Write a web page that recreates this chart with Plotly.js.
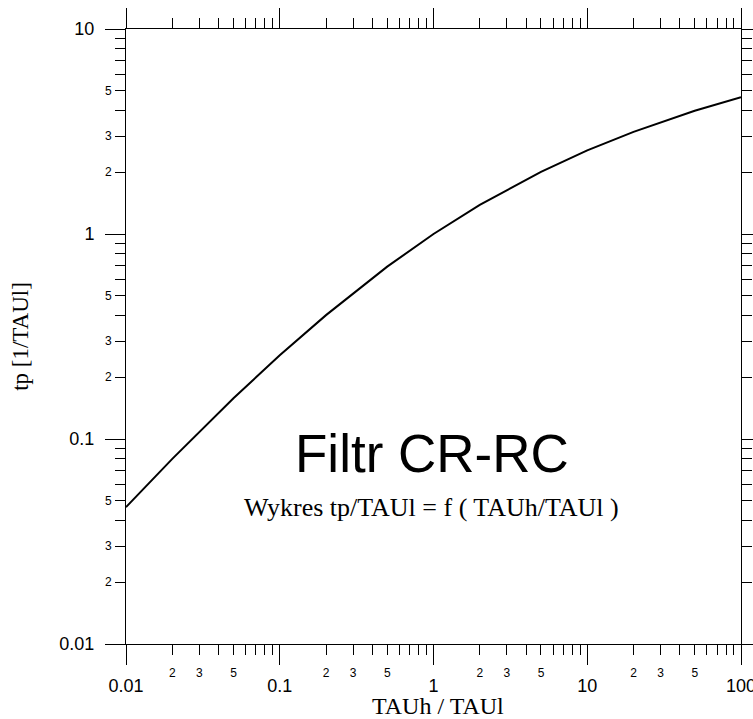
<!DOCTYPE html>
<html>
<head>
<meta charset="utf-8">
<script src="https://cdn.plot.ly/plotly-3.0.1.min.js"></script>
<style>html,body{margin:0;padding:0;background:#fff;}#chart{width:753px;height:719px;}</style>
</head>
<body>
<div id="chart"></div>
<script>
// Data
const ratio = [0.01, 0.02, 0.05, 0.1, 0.2, 0.5, 1, 2, 5, 10, 20, 50, 100];
const tp = [0.0465, 0.080, 0.158, 0.256, 0.402, 0.693, 1.0, 1.386, 2.01, 2.56, 3.15, 3.99, 4.65];

const majorX = [0.01, 0.1, 1, 10, 100];
const majorXText = ['0.01', '0.1', '1', '10', '100'];
const majorY = [0.01, 0.1, 1, 10];
const majorYText = ['0.01', '0.1', '1', '10'];

const labeledMinorX = [0.02, 0.03, 0.05, 0.2, 0.3, 0.5, 2, 3, 5, 20, 30, 50];
const labeledMinorXText = ['2', '3', '5', '2', '3', '5', '2', '3', '5', '2', '3', '5'];
const labeledMinorY = [0.02, 0.03, 0.05, 0.2, 0.3, 0.5, 2, 3, 5];
const labeledMinorYText = ['2', '3', '5', '2', '3', '5', '2', '3', '5'];

const plainMinorX = [0.04, 0.06, 0.07, 0.08, 0.09, 0.4, 0.6, 0.7, 0.8, 0.9, 4, 6, 7, 8, 9, 40, 60, 70, 80, 90];
const plainMinorY = [0.04, 0.06, 0.07, 0.08, 0.09, 0.4, 0.6, 0.7, 0.8, 0.9, 4, 6, 7, 8, 9];

const titleText = 'Filtr CR-RC';
const subtitleText = 'Wykres tp/TAUl = f ( TAUh/TAUl )';
const xTitle = 'TAUh / TAUl';
const yTitle = 'tp [1/TAUl]';

const sans = 'Liberation Sans, Arial, sans-serif';
const serif = 'Liberation Serif, Times New Roman, serif';

const trace = {
  x: ratio, y: tp, type: 'scatter', mode: 'lines',
  line: {color: '#000', width: 2}, hoverinfo: 'none', showlegend: false
};
// invisible helper trace to activate the overlay axes
const helper = {
  x: [0.01], y: [0.01], xaxis: 'x2', yaxis: 'y2', type: 'scatter', mode: 'markers',
  marker: {opacity: 0}, hoverinfo: 'none', showlegend: false
};

const baseAxis = {
  type: 'log', showgrid: false, zeroline: false, showline: true,
  linecolor: '#000', linewidth: 1, mirror: 'allticks', ticks: 'outside',
  tickcolor: '#000', tickwidth: 1, ticklabeloverflow: 'allow'
};

const layout = {
  width: 753, height: 719,
  margin: {l: 126, r: 12, t: 29, b: 75},
  paper_bgcolor: '#fff', plot_bgcolor: '#fff',
  showlegend: false,
  xaxis: Object.assign({}, baseAxis, {
    range: [-2, 2], tickmode: 'array', tickvals: majorX, ticktext: majorXText,
    ticklen: 20, tickfont: {family: sans, size: 18, color: '#000'},
    ticklabelstandoff: 5,
    minor: {tickmode: 'array', tickvals: plainMinorX, ticklen: 10, ticks: 'outside', tickcolor: '#000', tickwidth: 1, showgrid: false}
  }),
  yaxis: Object.assign({}, baseAxis, {
    range: [-2, 1], tickmode: 'array', tickvals: majorY, ticktext: majorYText,
    ticklen: 20, tickfont: {family: sans, size: 18, color: '#000'},
    ticklabelstandoff: 7,
    minor: {tickmode: 'array', tickvals: plainMinorY, ticklen: 10, ticks: 'outside', tickcolor: '#000', tickwidth: 1, showgrid: false},
    title: {text: yTitle, font: {family: serif, size: 23, color: '#000'}, standoff: 24}
  }),
  xaxis2: Object.assign({}, baseAxis, {
    overlaying: 'x', anchor: 'y', side: 'bottom',
    range: [-2, 2], tickmode: 'array', tickvals: labeledMinorX, ticktext: labeledMinorXText,
    ticklen: 10, tickfont: {family: sans, size: 12, color: '#000'}, ticklabelstandoff: 8
  }),
  yaxis2: Object.assign({}, baseAxis, {
    overlaying: 'y', anchor: 'x', side: 'left',
    range: [-2, 1], tickmode: 'array', tickvals: labeledMinorY, ticktext: labeledMinorYText,
    ticklen: 10, tickfont: {family: sans, size: 12, color: '#000'}, ticklabelstandoff: 1
  }),
  annotations: [
    {text: titleText, xref: 'paper', yref: 'paper', x: 0.497, y: 0.31, xanchor: 'center', yanchor: 'middle',
     showarrow: false, font: {family: sans, size: 53, color: '#000'}},
    {text: subtitleText, xref: 'paper', yref: 'paper', x: 0.496, y: 0.222, xanchor: 'center', yanchor: 'middle',
     showarrow: false, font: {family: serif, size: 26, color: '#000'}},
    {text: xTitle, xref: 'paper', yref: 'paper', x: 0.508, y: -0.1, xanchor: 'center', yanchor: 'middle',
     showarrow: false, font: {family: serif, size: 24, color: '#000'}}
  ]
};

Plotly.newPlot('chart', [trace, helper], layout, {displayModeBar: false, staticPlot: true});
</script>
</body>
</html>
